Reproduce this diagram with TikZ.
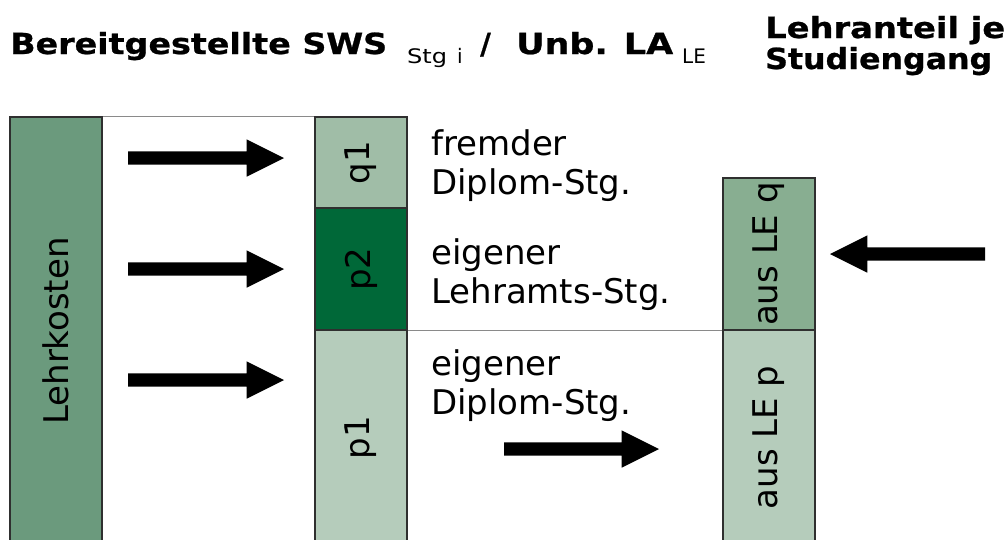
\documentclass[tikz,border=0pt]{standalone}
\usepackage{fontspec}
\setmainfont{DejaVu Sans}
\newfontfamily\titlefont{DejaVu Sans}[BoldFeatures={FakeBold=0.8}]
\usetikzlibrary{shapes.arrows}
\definecolor{lkgreen}{HTML}{6B9A7D}
\definecolor{qgreen}{HTML}{A0BDA7}
\definecolor{darkgreen}{HTML}{006838}
\definecolor{palegreen}{HTML}{B5CCBB}
\definecolor{midgreen}{HTML}{88AE91}
\definecolor{boxline}{HTML}{2F2F2F}
\definecolor{guidegray}{HTML}{8A8A8A}
\begin{document}
\begin{tikzpicture}[x=1pt,y=-1pt,
  box/.style={rectangle, draw=boxline, line width=1.4pt, inner sep=0pt, minimum width=92pt,
    font=\fontsize{34}{39}\selectfont},
  body/.style={inner sep=0pt, anchor=base west, align=left, font=\fontsize{34}{39}\selectfont},
  title/.style={inner sep=0pt, anchor=base west, font=\titlefont\bfseries\fontsize{29}{31}\selectfont},
  fat/.style={shape=single arrow, fill=black, draw=none, inner sep=0pt, outer sep=0pt,
    text height=13pt, text depth=0pt, minimum height=156pt,
    single arrow head extend=12pt, single arrow tip angle=53.13, anchor=tail},
  guide/.style={draw=guidegray, line width=1.2pt}]
\useasboundingbox (0,0) rectangle (1008,539);
\begin{scope}
\clip (0,0) rectangle (1008,539);
% titles
\node[title] (title1) at (10,54) {\makebox[397pt][l]{\resizebox{377pt}{\height}{Bereitgestellte SWS}}\makebox[73pt][l]{\raisebox{-9pt}{\mdseries\fontsize{20}{22}\selectfont\resizebox{40pt}{\height}{Stg}\hspace{10pt}i}}\makebox[36pt][l]{/}\makebox[166pt][l]{\resizebox{157pt}{\height}{Unb. LA}}\raisebox{-9pt}{\mdseries\fontsize{20}{22}\selectfont LE}};
\node[title, align=left] (title2) at (765,69) {\resizebox{240pt}{\height}{Lehranteil je}\\\resizebox{227pt}{\height}{Studiengang}};
% boxes
\node[box, fill=lkgreen, minimum height=428pt] (lk) at (56,331) {\rotatebox{90}{Lehrkosten}};
\node[box, fill=qgreen, minimum height=91pt] (q1) at (361,162.5) {\rotatebox{90}{q1}};
\node[box, fill=darkgreen, minimum height=122pt] (p2) at (361,269) {\rotatebox{90}{p2}};
\node[box, fill=palegreen, minimum height=215pt] (p1) at (361,437.5) {\rotatebox{90}{p1}};
\node[box, fill=midgreen, minimum height=152pt] (leq) at (769,254) {\rotatebox{90}{aus LE q}};
\node[box, fill=palegreen, minimum height=215pt] (lep) at (769,437.5) {\rotatebox{90}{aus LE p}};
% guide lines
\draw[guide] (lk.north east) -- (q1.north west);
\draw[guide] (p2.south east) -- (leq.south west);
% labels
\node[body] (t1) at (431,194) {fremder\\Diplom-Stg.};
\node[body] (t2) at (431,303) {eigener\\Lehramts-Stg.};
\node[body] (t3) at (431,414) {eigener\\Diplom-Stg.};
% arrows
\node[fat] (ar1) at (128,158) {};
\node[fat] (ar2) at (128,269) {};
\node[fat] (ar3) at (128,380) {};
\node[fat, minimum height=155pt] (ar4) at (504,449) {};
\node[fat, minimum height=155pt, shape border rotate=180] (ar5) at (985,254) {};
\end{scope}
\end{tikzpicture}
\end{document}
